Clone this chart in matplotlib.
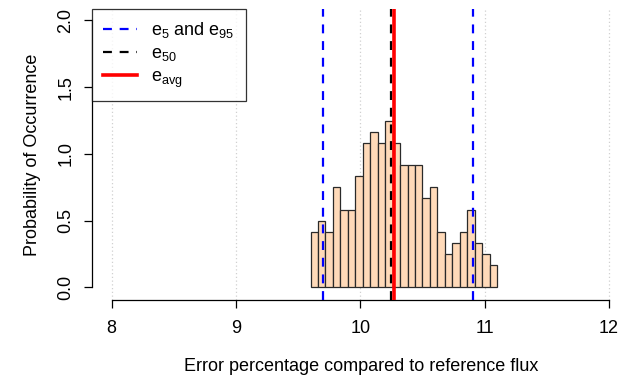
import matplotlib
matplotlib.use("Agg")
import matplotlib.pyplot as plt
import numpy as np
from matplotlib.lines import Line2D

plt.rcParams['font.family'] = ['Liberation Sans', 'DejaVu Sans']
plt.rcParams['mathtext.fontset'] = 'custom'
plt.rcParams['mathtext.rm'] = 'Liberation Sans'
plt.rcParams['mathtext.it'] = 'Liberation Sans'

# Histogram data (bin edges start / width, counts per bin, N = 200)
bin_start = 9.6
bin_width = 0.06
counts = [5, 6, 5, 9, 7, 7, 10, 13, 14, 13, 15, 13, 11, 11, 11, 8, 9, 5, 3, 4, 5, 7, 4, 3, 2]
e5 = 9.70
e95 = 10.91
e50 = 10.25
eavg = 10.27
x_ticks = [8, 9, 10, 11, 12]
y_ticks = [0.0, 0.5, 1.0, 1.5, 2.0]

counts = np.array(counts, dtype=float)
n_total = counts.sum()
density = counts / (n_total * bin_width)
edges = bin_start + bin_width * np.arange(len(counts) + 1)

W, H = 624, 380
fig = plt.figure(figsize=(W / 100, H / 100), dpi=100)
x0, x1 = 91.7, 630
y0, y1 = 9.0, 300.0
ax = fig.add_axes([x0 / W, 1 - y1 / H, (x1 - x0) / W, (y1 - y0) / H])
ax.set_xlim(7.839, 12.17)
ax.set_ylim(-0.094, 2.086)

for xt in x_ticks:
    ax.axvline(xt, color='#d0d0d0', lw=0.9, ls=(0, (1, 2)), zorder=0)

ax.bar(edges[:-1], density, width=bin_width, align='edge', color='#FFDAB9',
       edgecolor='#2a2a2a', linewidth=0.9, zorder=2)

ax.axvline(e5, color='#0000FF', lw=1.6, ls=(0, (4, 3.5)), zorder=3)
ax.axvline(e95, color='#0000FF', lw=1.6, ls=(0, (4, 3.5)), zorder=3)
ax.axvline(e50, color='black', lw=1.6, ls=(0, (4, 3.5)), zorder=3)
ax.axvline(eavg, color='#FF0000', lw=2.6, zorder=4)

for s in ['top', 'right']:
    ax.spines[s].set_visible(False)
ax.spines['left'].set_bounds(0, 2)
ax.spines['bottom'].set_bounds(8, 12)
ax.spines['left'].set_linewidth(0.9)
ax.spines['bottom'].set_linewidth(0.9)

ax.set_xticks(x_ticks)
ax.set_xticklabels([str(v) for v in x_ticks])
ax.set_yticks(y_ticks)
ax.set_yticklabels([f"{v:.1f}" for v in y_ticks], rotation=90, va='center')
ax.tick_params(axis='both', direction='out', length=5.5, width=0.9, labelsize=13)
ax.tick_params(axis='x', pad=9)
ax.tick_params(axis='y', pad=7)

ax.set_xlabel('Error percentage compared to reference flux', fontsize=13, labelpad=15)
ax.set_ylabel('Probability of Occurrence', fontsize=13, labelpad=12)

handles = [
    Line2D([], [], color='#0000FF', lw=1.6, ls=(0, (4, 3.5))),
    Line2D([], [], color='black', lw=1.6, ls=(0, (4, 3.5))),
    Line2D([], [], color='#FF0000', lw=2.6),
]
labels = [r'e$_{5}$ and e$_{95}$', r'e$_{50}$', r'e$_{\mathrm{avg}}$']
leg = ax.legend(handles, labels, loc='upper left', bbox_to_anchor=(0, 1),
                frameon=True, fancybox=False, edgecolor='black', fontsize=13,
                handlelength=1.9, borderaxespad=0, borderpad=0.6,
                labelspacing=0.3, handletextpad=0.8)
leg.get_frame().set_linewidth(0.9)
leg.set_zorder(5)

fig.savefig('out.png', dpi=100)
